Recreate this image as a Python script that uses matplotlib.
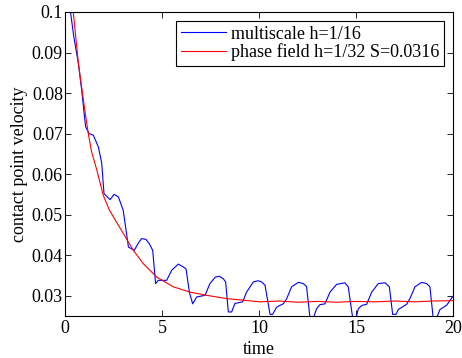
import matplotlib
matplotlib.use("Agg")
import matplotlib.pyplot as plt

# multiscale h=1/16
t_ms = [0.20, 0.45, 0.69, 0.86, 1.06, 1.24, 1.46, 1.72, 1.89, 2.01, 2.32, 2.53, 2.75, 3.00,
        3.27, 3.57, 3.78, 3.95, 4.17, 4.35, 4.52, 4.67, 4.81, 5.24, 5.50, 5.84, 6.10, 6.24,
        6.41, 6.58, 6.79, 7.22, 7.47, 7.75, 7.95, 8.16, 8.28, 8.42, 8.59, 8.76, 9.16, 9.36,
        9.71, 9.95, 10.14, 10.31, 10.57, 10.70, 10.91, 11.25, 11.43, 11.68, 12.03,
        12.28, 12.45, 12.63, 12.80, 12.97, 13.14, 13.40, 13.66, 14.00, 14.43, 14.60,
        14.83, 15.00, 15.12, 15.30, 15.55, 15.81, 16.15, 16.50, 16.72, 16.89, 17.06,
        17.18, 17.61, 17.78, 18.04, 18.38, 18.64, 18.81, 18.98, 19.15, 19.33, 19.68, 20.00]
v_ms = [0.1030, 0.0940, 0.0873, 0.0807, 0.0717, 0.0700, 0.0696, 0.0667, 0.0628, 0.0552,
        0.0537, 0.0550, 0.0544, 0.0511, 0.0420, 0.0412, 0.0430, 0.0441, 0.0439, 0.0428,
        0.0412, 0.0330, 0.0338, 0.0338, 0.0363, 0.0378, 0.0371, 0.0366, 0.0309, 0.0280,
        0.0297, 0.0301, 0.0330, 0.0346, 0.0348, 0.0342, 0.0334, 0.0260, 0.0260, 0.0281,
        0.0285, 0.0309, 0.0334, 0.0337, 0.0334, 0.0326, 0.0254, 0.0254, 0.0272, 0.0280,
        0.0293, 0.0322, 0.0333, 0.0330, 0.0323, 0.0245, 0.0245, 0.0268, 0.0278, 0.0280,
        0.0309, 0.0328, 0.0332, 0.0322, 0.0245, 0.0245, 0.0268, 0.0276, 0.0279, 0.0309,
        0.0330, 0.0332, 0.0322, 0.0254, 0.0254, 0.0266, 0.0279, 0.0293, 0.0322, 0.0333,
        0.0330, 0.0322, 0.0245, 0.0245, 0.0266, 0.0277, 0.0299]

# phase field h=1/32 S=0.0316
t_pf = [0.30, 0.43, 0.69, 0.77, 1.00, 1.20, 1.37, 1.63, 1.97, 2.29, 2.49, 3.00, 3.52,
        4.04, 4.73, 5.58, 6.44, 7.30, 8.33, 9.19, 10.05, 11, 12, 13, 14, 15, 16, 17,
        18, 19, 20]
v_pf = [0.1040, 0.0998, 0.0873, 0.0845, 0.0765, 0.0700, 0.0655, 0.0612, 0.0548, 0.0511,
        0.0495, 0.0454, 0.0412, 0.0379, 0.0346, 0.0322, 0.0309, 0.0301, 0.0293, 0.0289,
        0.0285, 0.0287, 0.0284, 0.0286, 0.0284, 0.0286, 0.0285, 0.0287, 0.0285, 0.0287,
        0.0288]

xticks = [0, 5, 10, 15, 20]
yticks = [0.03, 0.04, 0.05, 0.06, 0.07, 0.08, 0.09, 0.1]
ytick_labels = ["0.03", "0.04", "0.05", "0.06", "0.07", "0.08", "0.09", "0.1"]

plt.rcParams["font.family"] = "Liberation Serif"
plt.rcParams["font.size"] = 13

fig = plt.figure(figsize=(4.62, 3.58), dpi=100)
ax = fig.add_axes([0.1407, 0.1173, 0.8398, 0.8492])

ax.plot(t_ms, v_ms, color="#0000ff", lw=0.8, label="multiscale h=1/16")
ax.plot(t_pf, v_pf, color="#ff0000", lw=0.8, label="phase field h=1/32 S=0.0316")

ax.set_xlim(0, 20)
ax.set_ylim(0.025, 0.1)
ax.set_xticks(xticks)
ax.set_yticks(yticks)
ax.set_yticklabels(ytick_labels)
ax.tick_params(direction="in", top=True, right=True, length=4, width=0.6, labelsize=13)
ax.tick_params(axis="y", pad=1.5)
ax.tick_params(axis="x", pad=3)
for s in ax.spines.values():
    s.set_linewidth(0.8)

ax.set_xlabel("time", fontsize=13, labelpad=3)
ax.set_ylabel("contact point velocity", fontsize=13, labelpad=3)

leg = ax.legend(loc="upper right", fancybox=False, framealpha=1, edgecolor="black",
                fontsize=13, borderpad=0.25, handlelength=2.5, handletextpad=0.3,
                labelspacing=0.05, borderaxespad=0.5)
leg.get_frame().set_linewidth(0.8)

fig.savefig("out.png", dpi=100)
